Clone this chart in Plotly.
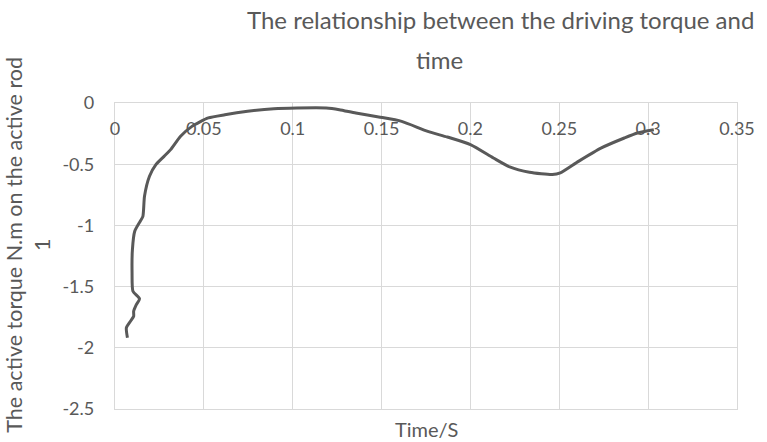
import plotly.graph_objects as go

# Driving torque on the active rod versus time
time_s = [0.0070, 0.0064, 0.0087, 0.0105, 0.0105, 0.0120, 0.0138, 0.0101, 0.0096,
          0.0098, 0.0111, 0.0142, 0.0157, 0.0166, 0.0194, 0.0230, 0.0276, 0.0313,
          0.0369, 0.0433, 0.0525, 0.0618, 0.0746, 0.0894, 0.1023, 0.1189, 0.1262,
          0.1355, 0.1484, 0.1613, 0.1760, 0.1870, 0.2000, 0.2129, 0.2221, 0.2332,
          0.2461, 0.2506, 0.2608, 0.2737, 0.2866, 0.2940, 0.3032]
torque_nm = [-1.918, -1.837, -1.783, -1.742, -1.701, -1.647, -1.600, -1.538, -1.388,
             -1.198, -1.048, -0.966, -0.926, -0.762, -0.599, -0.504, -0.436, -0.381,
             -0.272, -0.191, -0.122, -0.096, -0.068, -0.047, -0.041, -0.041, -0.055,
             -0.082, -0.114, -0.150, -0.232, -0.278, -0.340, -0.449, -0.522, -0.566,
             -0.585, -0.571, -0.477, -0.367, -0.286, -0.245, -0.218]

x_ticks = [0, 0.05, 0.1, 0.15, 0.2, 0.25, 0.3, 0.35]
x_tick_text = ["0", "0.05", "0.1", "0.15", "0.2", "0.25", "0.3", "0.35"]
y_ticks = [0, -0.5, -1, -1.5, -2, -2.5]
y_tick_text = ["0", "-0.5", "-1", "-1.5", "-2", "-2.5"]

title_lines = ["The relationship between the driving torque and", "time"]
x_title = "Time/S"
y_title = "The active torque N.m on the active rod<br>1"

TEXT = "#595959"
GRID = "#d9d9d9"
FONT = "Lato"

fig = go.Figure()
fig.add_trace(go.Scatter(
    x=time_s, y=torque_nm, mode="lines",
    line=dict(color="#595959", width=3, shape="spline", smoothing=0.6),
    showlegend=False,
))

fig.update_layout(
    width=767, height=442,
    margin=dict(l=115, r=19, t=103, b=33),
    paper_bgcolor="white", plot_bgcolor="white",
    font=dict(family=FONT, color=TEXT, size=18),
    xaxis=dict(
        range=[0, 0.35], tickvals=x_ticks, ticktext=x_tick_text,
        side="top", ticklabelposition="inside", ticklabelstandoff=20,
        ticklabeloverflow="allow",
        showgrid=True, gridcolor=GRID, gridwidth=1.3,
        showline=True, linecolor=GRID, linewidth=1.3, mirror=True,
        zeroline=False, ticks="",
        tickfont=dict(family=FONT, size=18, color=TEXT),
    ),
    yaxis=dict(
        range=[-2.5, 0], tickvals=y_ticks, ticktext=y_tick_text,
        ticklabeloverflow="allow",
        showgrid=True, gridcolor=GRID, gridwidth=1.3,
        showline=True, linecolor=GRID, linewidth=1.3, mirror=True,
        zeroline=False, ticks="", ticklabelstandoff=16,
        tickfont=dict(family=FONT, size=18, color=TEXT),
    ),
)

# Chart title, two lines as laid out in the chart header
fig.add_annotation(
    text=title_lines[0], xref="paper", yref="paper",
    x=(507 - 115) / 633, y=1, xanchor="center", yanchor="middle",
    yshift=103 - 19, showarrow=False,
    font=dict(family=FONT, size=24, color=TEXT),
)
fig.add_annotation(
    text=title_lines[1], xref="paper", yref="paper",
    x=(445 - 115) / 633, y=1, xanchor="center", yanchor="middle",
    yshift=103 - 59, showarrow=False,
    font=dict(family=FONT, size=24, color=TEXT),
)

# Axis titles
fig.add_annotation(
    text=x_title, xref="paper", yref="paper", x=0.5, y=0,
    xanchor="center", yanchor="top", yshift=-6, showarrow=False,
    font=dict(family=FONT, size=20, color=TEXT),
)
fig.add_annotation(
    text=y_title,
    xref="paper", yref="paper", x=0, y=0.537, xanchor="center", yanchor="middle",
    xshift=-87, textangle=-90, showarrow=False,
    font=dict(family=FONT, size=21.5, color=TEXT),
)

fig.write_html("out.html")
